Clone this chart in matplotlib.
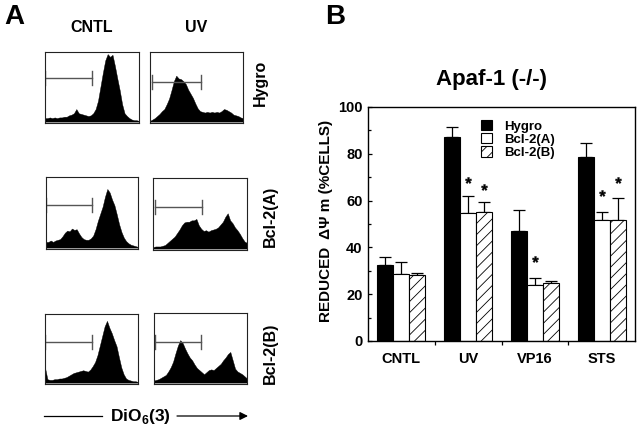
import numpy as np
import matplotlib
matplotlib.use("Agg")
import matplotlib.pyplot as plt

plt.rcParams['font.family'] = ['Liberation Sans', 'DejaVu Sans']
plt.rcParams['font.weight'] = 'bold'
plt.rcParams['mathtext.fontset'] = 'custom'
plt.rcParams['mathtext.rm'] = 'Liberation Sans:bold'
plt.rcParams['mathtext.bf'] = 'Liberation Sans:bold'
plt.rcParams['hatch.linewidth'] = 0.6

# ---- panel B data ----
treatments = ["CNTL", "UV", "VP16", "STS"]
hygro = [32.5, 87.3, 47.0, 78.8]
hygro_err = [3.4, 4.0, 9.1, 6.0]
bcl2_a = [28.5, 54.6, 24.1, 51.8]
bcl2_a_err = [5.4, 7.4, 2.8, 3.2]
bcl2_b = [28.1, 55.0, 24.9, 51.8]
bcl2_b_err = [0.8, 4.3, 0.9, 9.2]
# asterisks: (group index, series index, y)
stars = [(1, 1, 68.8), (1, 2, 65.9), (2, 1, 35.0), (3, 1, 63.4), (3, 2, 68.8)]

# ---- panel A histograms (height as fraction of box, 40 channels) ----
hist_cntl_hygro = [0.05, 0.05, 0.06, 0.05, 0.06, 0.05, 0.06, 0.06, 0.07, 0.07,
                   0.09, 0.10, 0.12, 0.18, 0.12, 0.11, 0.10, 0.09, 0.08, 0.09,
                   0.12, 0.18, 0.30, 0.50, 0.70, 0.88, 0.97, 0.93, 0.96, 0.80,
                   0.62, 0.45, 0.25, 0.12, 0.08, 0.05, 0.03, 0.02, 0.02, 0.01]
hist_uv_hygro = [0.01, 0.03, 0.05, 0.08, 0.11, 0.15, 0.18, 0.25, 0.33, 0.45,
                 0.58, 0.66, 0.62, 0.61, 0.58, 0.54, 0.46, 0.40, 0.34, 0.26,
                 0.19, 0.15, 0.14, 0.13, 0.14, 0.13, 0.14, 0.13, 0.14, 0.13,
                 0.15, 0.18, 0.17, 0.15, 0.13, 0.10, 0.09, 0.08, 0.06, 0.05]
hist_cntl_bcl2a = [0.08, 0.08, 0.10, 0.08, 0.10, 0.11, 0.12, 0.16, 0.21, 0.24,
                   0.23, 0.27, 0.25, 0.26, 0.20, 0.15, 0.12, 0.11, 0.11, 0.13,
                   0.17, 0.26, 0.38, 0.48, 0.58, 0.72, 0.83, 0.78, 0.68, 0.60,
                   0.47, 0.33, 0.22, 0.14, 0.09, 0.06, 0.04, 0.03, 0.02, 0.01]
hist_uv_bcl2a = [0.02, 0.03, 0.03, 0.03, 0.04, 0.05, 0.08, 0.11, 0.14, 0.17,
                 0.22, 0.27, 0.33, 0.37, 0.38, 0.38, 0.40, 0.40, 0.42, 0.33,
                 0.28, 0.25, 0.26, 0.24, 0.26, 0.27, 0.28, 0.30, 0.34, 0.38,
                 0.45, 0.50, 0.40, 0.36, 0.30, 0.26, 0.21, 0.15, 0.10, 0.08]
hist_cntl_bcl2b = [0.22, 0.05, 0.04, 0.04, 0.05, 0.05, 0.06, 0.06, 0.07, 0.08,
                   0.10, 0.12, 0.14, 0.15, 0.16, 0.17, 0.18, 0.17, 0.16, 0.19,
                   0.24, 0.30, 0.40, 0.54, 0.68, 0.82, 0.90, 0.80, 0.72, 0.62,
                   0.53, 0.37, 0.22, 0.12, 0.06, 0.04, 0.03, 0.02, 0.02, 0.01]
hist_uv_bcl2b = [0.03, 0.04, 0.05, 0.07, 0.09, 0.11, 0.16, 0.22, 0.30, 0.42,
                 0.53, 0.61, 0.57, 0.49, 0.42, 0.36, 0.32, 0.26, 0.21, 0.18,
                 0.15, 0.12, 0.15, 0.18, 0.19, 0.18, 0.21, 0.24, 0.27, 0.32,
                 0.36, 0.41, 0.44, 0.32, 0.20, 0.16, 0.14, 0.12, 0.09, 0.06]
# gate marker: (start, end, height) as box fractions
gates = [(0.0, 0.50, 0.62), (0.02, 0.55, 0.57),
         (0.0, 0.50, 0.60), (0.02, 0.525, 0.59),
         (0.0, 0.51, 0.59), (0.01, 0.50, 0.59)]
row_labels = ["Hygro", "Bcl-2(A)", "Bcl-2(B)"]
col_labels = ["CNTL", "UV"]

W, H = 640, 430
fig = plt.figure(figsize=(6.4, 4.3), dpi=100)


def px_axes(x0, y0, x1, y1):
    return fig.add_axes([x0 / W, 1 - y1 / H, (x1 - x0) / W, (y1 - y0) / H])


def ftext(x, y, s, **kw):
    fig.text(x / W, 1 - y / H, s, **kw)


# ---------------- panel A ----------------
hists = [hist_cntl_hygro, hist_uv_hygro, hist_cntl_bcl2a,
         hist_uv_bcl2a, hist_cntl_bcl2b, hist_uv_bcl2b]
boxes = [(45, 52, 139, 123), (150, 52, 243, 123),
         (46, 177, 138, 249), (153, 178, 247, 250),
         (45, 314, 138, 384), (154, 313, 247, 384)]

for h, box, g in zip(hists, boxes, gates):
    a = px_axes(*box)
    xs = np.linspace(0, 1, len(h))
    a.fill_between(xs, 0, h, color='black', lw=0.3)
    a.set_xlim(0, 1)
    a.set_ylim(-0.02, 1.0)
    a.set_xticks([])
    a.set_yticks([])
    for sp in a.spines.values():
        sp.set_linewidth(0.8)
        sp.set_color('#222222')
    a.plot([g[0], g[1]], [g[2], g[2]], color='#555555', lw=1)
    a.plot([g[1], g[1]], [g[2] - 0.1, g[2] + 0.1], color='#555555', lw=1)
    a.plot([g[0], g[0]], [g[2] - 0.1, g[2] + 0.1], color='#555555', lw=1)

ftext(92, 28, col_labels[0], ha='center', va='center', fontsize=11.5)
ftext(196, 28, col_labels[1], ha='center', va='center', fontsize=11.5)
ftext(260, 83, row_labels[0], ha='center', va='center', rotation=90, fontsize=11.5)
ftext(270, 216, row_labels[1], ha='center', va='center', rotation=90, fontsize=11.5)
ftext(270, 353, row_labels[2], ha='center', va='center', rotation=90, fontsize=11.5)

ftext(14, 17, "A", ha='center', va='center', fontsize=20)
ftext(335, 17, "B", ha='center', va='center', fontsize=20)

# DiO6(3) axis arrow
ov = fig.add_axes([0, 0, 1, 1], zorder=-1)
ov.set_xlim(0, W)
ov.set_ylim(H, 0)
ov.axis('off')
ov.plot([44, 102], [416, 416], color='black', lw=0.9)
ov.annotate("", xy=(248, 416), xytext=(177, 416),
            arrowprops=dict(arrowstyle='-|>', color='black', lw=0.9,
                            mutation_scale=12, shrinkA=0, shrinkB=0))
ov.text(140, 416, r"DiO$_{\mathbf{6}}$(3)", ha='center', va='center', fontsize=12.5)

# ---------------- panel B ----------------
ax = px_axes(368, 107, 635, 341)
centers = np.arange(len(treatments)) + 0.5
bw = 0.24
series = [(hygro, hygro_err, 'black', '', 'Hygro'),
          (bcl2_a, bcl2_a_err, 'white', '', 'Bcl-2(A)'),
          (bcl2_b, bcl2_b_err, 'white', '///', 'Bcl-2(B)')]
handles = []
for k, (vals, errs, fc, hatch, lab) in enumerate(series):
    xs = centers + (k - 1) * bw
    b = ax.bar(xs, vals, width=bw, color=fc, edgecolor='black', hatch=hatch,
               lw=0.8, label=lab, zorder=2)
    handles.append(b)
    ax.errorbar(xs, vals, yerr=[np.zeros(len(errs)), errs], fmt='none',
                ecolor='black', elinewidth=0.9, capsize=4, capthick=0.9, zorder=1)

for gi, si, y in stars:
    ax.plot(centers[gi] + (si - 1) * bw, y, marker='$*$', ms=4.5, color='black',
            ls='none', mew=0.3)

ax.set_xlim(0, 4)
ax.set_ylim(0, 100)
ax.set_yticks([0, 20, 40, 60, 80, 100])
ax.set_yticks([10, 30, 50, 70, 90], minor=True)
ax.tick_params(axis='y', which='major', direction='in', length=3, width=0.9,
               labelsize=10.5, pad=4)
ax.tick_params(axis='y', which='minor', direction='in', length=2, width=0.9)
ax.set_xticks([1, 2, 3])
ax.set_xticklabels([])
ax.set_xticks(centers, minor=True)
ax.set_xticklabels(treatments, minor=True)
ax.tick_params(axis='x', which='major', direction='out', length=3, width=0.9)
ax.tick_params(axis='x', which='minor', length=0, labelsize=10.5, pad=8)
for sp in ax.spines.values():
    sp.set_linewidth(1.0)

ax.legend(handles=handles, loc='upper left', bbox_to_anchor=(0.425, 0.945),
          frameon=False, fontsize=9.5, handlelength=0.8, handleheight=0.8,
          handletextpad=0.9, labelspacing=0.05, borderpad=0, borderaxespad=0)

ftext(491, 79, "Apaf-1 (-/-)", ha='center', va='center', fontsize=16)
ftext(326, 221, "REDUCED  \u0394\u03a8 m (%CELLS)", ha='center', va='center',
      rotation=90, fontsize=11)

fig.savefig("out.png", dpi=100)
